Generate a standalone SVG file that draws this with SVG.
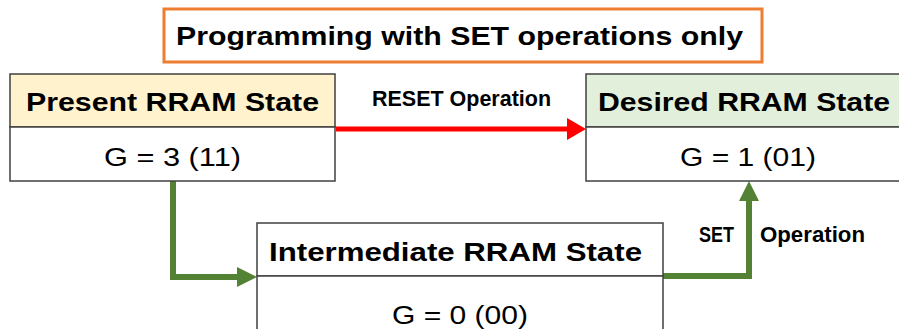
<svg xmlns="http://www.w3.org/2000/svg" width="899" height="329" viewBox="0 0 899 329">
  <style>
    .box { stroke: #404040; stroke-width: 1.5; }
    .bold { font-family: "Liberation Sans", Arial, sans-serif; font-weight: bold; fill: #000; }
    .reg { font-family: "Liberation Sans", Arial, sans-serif; fill: #000; }
    .head { font-size: 25px; }
    .val { font-size: 25.5px; }
    .lbl { font-size: 22px; }
    .red { fill: none; stroke: #FF0000; stroke-width: 5; }
    .green { fill: none; stroke: #548235; stroke-width: 6; }
  </style>
  <defs>
    <marker id="headRed" markerUnits="userSpaceOnUse" markerWidth="20" markerHeight="22" refX="0" refY="11" orient="auto">
      <path d="M0,0 L19,11 L0,22 Z" fill="#FF0000"/>
    </marker>
    <marker id="headGreen" markerUnits="userSpaceOnUse" markerWidth="21" markerHeight="22" refX="0" refY="11" orient="auto">
      <path d="M0,1 L20,11 L0,21 Z" fill="#548235"/>
    </marker>
  </defs>

  <rect width="899" height="329" fill="#FFFFFF"/>

  <g id="title">
    <rect x="164" y="9" width="598" height="53" fill="#FFFFFF" stroke="#ED7D31" stroke-width="3"/>
    <text class="bold" x="176" y="45" font-size="26.5" textLength="567" lengthAdjust="spacingAndGlyphs">Programming with SET operations only</text>
  </g>

  <g id="connectors">
    <path class="red" d="M336,129 H567" marker-end="url(#headRed)"/>
    <path class="green" d="M173,181 V277 H237" marker-end="url(#headGreen)"/>
    <path class="green" d="M663,276 H749 V201" marker-end="url(#headGreen)"/>
    <text class="bold lbl" x="372" y="106" textLength="179" lengthAdjust="spacingAndGlyphs">RESET Operation</text>
    <text class="bold lbl" x="699" y="242" textLength="35" lengthAdjust="spacingAndGlyphs">SET</text>
    <text class="bold lbl" x="760" y="242" textLength="105" lengthAdjust="spacingAndGlyphs">Operation</text>
  </g>

  <g id="present">
    <rect class="box" x="10" y="74" width="325" height="53" fill="#FFF2CC"/>
    <rect class="box" x="10" y="127" width="325" height="54" fill="#FFFFFF"/>
    <text class="bold head" x="26" y="111" textLength="293" lengthAdjust="spacingAndGlyphs">Present RRAM State</text>
    <text class="reg val" x="104" y="166" textLength="137" lengthAdjust="spacingAndGlyphs">G = 3 (11)</text>
  </g>

  <g id="desired">
    <rect class="box" x="586" y="74" width="330" height="53" fill="#E2EFDA"/>
    <rect class="box" x="586" y="127" width="330" height="54" fill="#FFFFFF"/>
    <text class="bold head" x="598" y="111" textLength="292" lengthAdjust="spacingAndGlyphs">Desired RRAM State</text>
    <text class="reg val" x="680" y="166" textLength="136" lengthAdjust="spacingAndGlyphs">G = 1 (01)</text>
  </g>

  <g id="intermediate">
    <rect class="box" x="257" y="223" width="406" height="53" fill="#FFFFFF"/>
    <rect class="box" x="257" y="276" width="406" height="70" fill="#FFFFFF"/>
    <text class="bold head" x="269" y="261" textLength="373" lengthAdjust="spacingAndGlyphs">Intermediate RRAM State</text>
    <text class="reg val" x="392" y="324" textLength="136" lengthAdjust="spacingAndGlyphs">G = 0 (00)</text>
  </g>
</svg>
